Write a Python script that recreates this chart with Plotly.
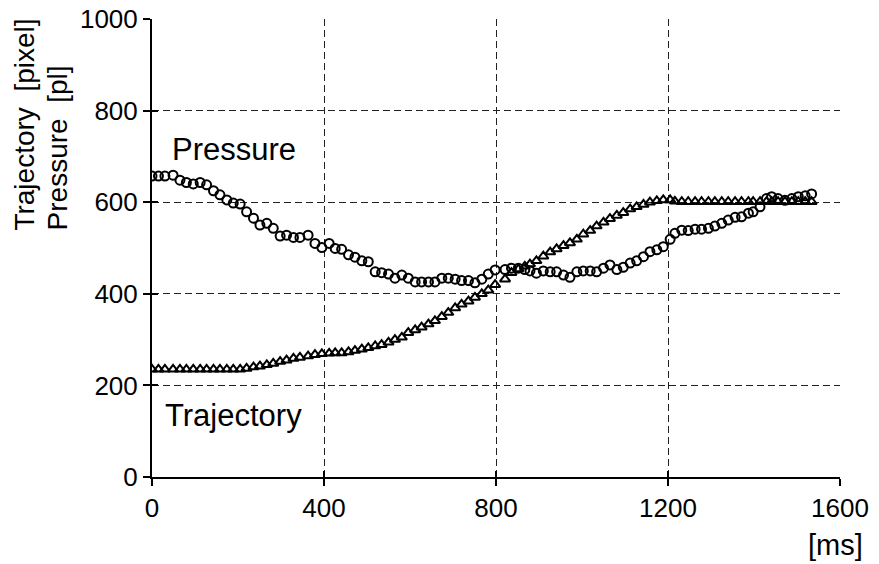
import plotly.graph_objects as go

# time samples [ms]
time_ms = [0, 15, 30, 49, 65, 80, 96, 112, 127, 143, 158, 174, 189, 205, 220, 236, 251, 267, 282, 298,
           313, 329, 344, 363, 379, 395, 412, 426, 441, 457, 472, 488, 503, 519, 534, 550, 565, 581, 596, 612,
           627, 643, 658, 674, 689, 705, 720, 736, 751, 767, 782, 798, 821, 836, 852, 867, 879, 894, 910, 926,
           941, 957, 972, 988, 1003, 1019, 1034, 1050, 1065, 1081, 1096, 1112, 1127, 1143, 1158, 1174, 1189, 1205,
           1216, 1232, 1247, 1263, 1278, 1294, 1309, 1325, 1340, 1356, 1371, 1387, 1398, 1414, 1429, 1441, 1456,
           1472, 1488, 1503, 1519, 1534]

pressure = [657, 657, 657, 659, 648, 643, 640, 643, 638, 625, 616, 605, 598, 596, 579, 565, 550, 554, 543, 526,
            528, 523, 523, 528, 510, 501, 510, 499, 497, 485, 480, 472, 470, 448, 446, 443, 434, 441, 434, 426,
            426, 426, 426, 434, 434, 432, 429, 429, 424, 432, 443, 452, 453, 456, 456, 453, 450, 445, 450, 448,
            448, 441, 436, 448, 450, 450, 448, 456, 463, 453, 458, 467, 472, 481, 492, 496, 503, 519,
            532, 539, 538, 541, 541, 543, 548, 554, 561, 567, 568, 576, 579, 590, 608, 612, 608,
            604, 608, 612, 614, 618]

trajectory = [235, 235, 235, 235, 235, 235, 235, 235, 235, 235, 235, 235, 235, 235, 237, 240, 242, 245, 248, 252,
              255, 259, 261, 264, 267, 269, 270, 271, 271, 273, 276, 279, 282, 286, 289, 294, 300, 305, 315, 321,
              327, 334, 341, 350, 359, 369, 377, 384, 392, 400, 408, 420, 432, 446, 454, 460, 465, 472, 482, 491,
              498, 505, 511, 519, 530, 538, 548, 556, 564, 571, 577, 585, 590, 595, 600, 603, 605, 605,
              602, 601, 601, 601, 601, 601, 601, 601, 601, 601, 601, 601, 601, 601, 601, 601, 601,
              601, 601, 601, 601, 601]

x_ticks = [0, 400, 800, 1200, 1600]
y_ticks = [0, 200, 400, 600, 800, 1000]

FONT = "Liberation Sans, Arial, sans-serif"

fig = go.Figure()
fig.add_trace(go.Scatter(
    x=time_ms, y=trajectory, mode="markers", name="Trajectory",
    marker=dict(symbol="triangle-up-open", size=9, color="black", line=dict(width=2, color="black")),
))
fig.add_trace(go.Scatter(
    x=time_ms, y=pressure, mode="markers", name="Pressure",
    marker=dict(symbol="circle-open", size=9, color="black", line=dict(width=2, color="black")),
))
# empty trace so the inner-tick overlay axes get drawn
fig.add_trace(go.Scatter(x=[None], y=[None], xaxis="x2", yaxis="y2", showlegend=False, hoverinfo="skip"))

grid = dict(showgrid=True, gridcolor="#222", griddash="7px,4px", gridwidth=1.2, zeroline=False)

fig.update_layout(
    width=879, height=564,
    margin=dict(l=152, r=39, t=19, b=87, autoexpand=False),
    paper_bgcolor="white", plot_bgcolor="white",
    showlegend=False,
    font=dict(family=FONT, size=26, color="black"),
    xaxis=dict(range=[0, 1600], tickvals=x_ticks, ticks="outside", ticklen=7, tickwidth=1.5,
               tickcolor="black", showline=True, linecolor="black", linewidth=2, automargin=False,
               tickfont=dict(size=26, family=FONT), **grid),
    yaxis=dict(range=[0, 1000], tickvals=y_ticks, ticks="outside", ticklen=7, tickwidth=1.5,
               tickcolor="black", showline=True, linecolor="black", linewidth=2, automargin=False,
               tickfont=dict(size=26, family=FONT), **grid),
    xaxis2=dict(range=[0, 1600], tickvals=x_ticks, ticks="inside", ticklen=6, tickwidth=1.5,
                tickcolor="black", showticklabels=False, showgrid=False, zeroline=False,
                showline=False, automargin=False, overlaying="x", side="bottom", anchor="y2"),
    yaxis2=dict(range=[0, 1000], tickvals=y_ticks, ticks="inside", ticklen=6, tickwidth=1.5,
                tickcolor="black", showticklabels=False, showgrid=False, zeroline=False,
                showline=False, automargin=False, overlaying="y", side="left", anchor="x2"),
)

# y-axis title (two rotated lines, bottom aligned)
fig.add_annotation(x=-0.185, y=0.533, xref="paper", yref="paper", text="Trajectory  [pixel]",
                   textangle=-90, showarrow=False, xanchor="center", yanchor="bottom",
                   font=dict(size=28, family=FONT))
fig.add_annotation(x=-0.138, y=0.533, xref="paper", yref="paper", text="Pressure  [pl]",
                   textangle=-90, showarrow=False, xanchor="center", yanchor="bottom",
                   font=dict(size=28, family=FONT))
# x-axis unit
fig.add_annotation(x=0.993, y=-0.148, xref="paper", yref="paper", text="[ms]",
                   showarrow=False, xanchor="center", yanchor="middle",
                   font=dict(size=29, family=FONT))
# series labels
fig.add_annotation(x=42, y=714, text="Pressure", showarrow=False, xanchor="left", yanchor="middle",
                   font=dict(size=31, family=FONT))
fig.add_annotation(x=26, y=135, text="Trajectory", showarrow=False, xanchor="left", yanchor="middle",
                   font=dict(size=31, family=FONT))

fig.write_html("out.html")
